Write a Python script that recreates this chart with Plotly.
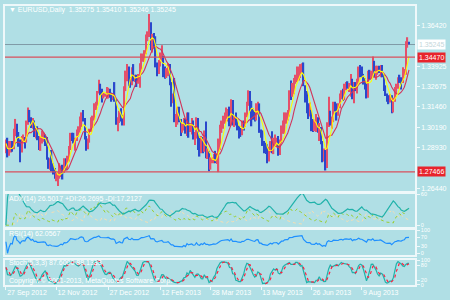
import numpy as np
import pandas as pd
import plotly.graph_objects as go

# ---------------- data (EURUSD, Daily) ----------------
first_date = "2012-09-27"
last_date = "2013-09-20"

opens = [
    1.2895, 1.2920,
    1.2860, 1.2880, 1.2900, 1.2895, 1.2970,
    1.3035, 1.2960, 1.2935, 1.2880, 1.2940,
    1.2955, 1.2945, 1.3050, 1.3120, 1.3055,
    1.3020, 1.3055, 1.2975, 1.2990, 1.2945,
    1.2940, 1.2950, 1.2960, 1.2960, 1.2950,
    1.2830, 1.2790, 1.2815, 1.2760, 1.2745,
    1.2710, 1.2715, 1.2720, 1.2745, 1.2775,
    1.2745, 1.2810, 1.2800, 1.2825, 1.2885,
    1.2975, 1.2970, 1.2945, 1.2945, 1.2975,
    1.2985, 1.3060, 1.3085, 1.3070, 1.2950,
    1.2925, 1.2935, 1.3005, 1.3060, 1.3075,
    1.3160, 1.3165, 1.3240, 1.3275, 1.3225,
    1.3215, 1.3220, 1.3220, 1.3225, 1.3240,
    1.3215, 1.3195, 1.3205, 1.3185, 1.3045,
    1.3070, 1.3115, 1.3075, 1.3065, 1.3260,
    1.3345, 1.3385, 1.3300, 1.3285, 1.3380,
    1.3315, 1.3320, 1.3315, 1.3315, 1.3385,
    1.3455, 1.3455, 1.3480, 1.3570, 1.3580,
    1.3640, 1.3510, 1.3530, 1.3525, 1.3400,
    1.3365, 1.3405, 1.3450, 1.3455, 1.3365,
    1.3360, 1.3360, 1.3390, 1.3285, 1.3185,
    1.3190, 1.3060, 1.3060, 1.3060, 1.3055,
    1.3020, 1.3020, 1.3060, 1.2980, 1.3100,
    1.3005, 1.3035, 1.3050, 1.2955, 1.2965,
    1.3075, 1.2915, 1.2870, 1.2950, 1.2880,
    1.2985, 1.2850, 1.2855, 1.2775, 1.2820,
    1.2820, 1.2845, 1.2815, 1.2850, 1.2945,
    1.2995, 1.3045, 1.3070, 1.3075, 1.3105,
    1.3110, 1.3045, 1.3180, 1.3045, 1.3065,
    1.3050, 1.3015, 1.2985, 1.2980, 1.3035,
    1.3030, 1.3095, 1.3165, 1.3170, 1.3130,
    1.3115, 1.3090, 1.3075, 1.3150, 1.3160,
    1.2990, 1.2985, 1.2910, 1.2885, 1.2875,
    1.2835, 1.2880, 1.2925, 1.2880, 1.2935,
    1.2935, 1.2940, 1.2860, 1.2930, 1.2995,
    1.2995, 1.3075, 1.3090, 1.3090, 1.3225,
    1.3220, 1.3250, 1.3315, 1.3330, 1.3340,
    1.3345, 1.3360, 1.3390, 1.3270, 1.3220,
    1.3125, 1.3120, 1.3120, 1.3025, 1.3010,
    1.3010, 1.3065, 1.2990, 1.3015, 1.2930,
    1.2830, 1.2865, 1.2790, 1.3035, 1.3115,
    1.3065, 1.3065, 1.3160, 1.3155, 1.3130,
    1.3145, 1.3215, 1.3235, 1.3200, 1.3270,
    1.3275, 1.3255, 1.3260, 1.3300, 1.3210,
    1.3280, 1.3265, 1.3305, 1.3380, 1.3345,
    1.3340, 1.3300, 1.3255, 1.3205, 1.3365,
    1.3335, 1.3335, 1.3420, 1.3335, 1.3345,
    1.3375, 1.3365, 1.3380, 1.3340, 1.3250,
    1.3220, 1.3200, 1.3190, 1.3210, 1.3115,
    1.3180, 1.3255, 1.3270, 1.3315, 1.3300,
    1.3295, 1.3335, 1.3360, 1.3515, 1.35275,
]

highs = [
    1.2945, 1.2955,
    1.2935, 1.2935, 1.2935, 1.3010, 1.3070,
    1.3040, 1.2990, 1.2945, 1.2965, 1.2975,
    1.2960, 1.3060, 1.3140, 1.3125, 1.3080,
    1.3075, 1.3060, 1.3015, 1.3025, 1.2965,
    1.2965, 1.3000, 1.2985, 1.2975, 1.2960,
    1.2835, 1.2830, 1.2880, 1.2800, 1.2770,
    1.2740, 1.2745, 1.2800, 1.2785, 1.2790,
    1.2830, 1.2830, 1.2845, 1.2905, 1.2985,
    1.2985, 1.2985, 1.2955, 1.3005, 1.3025,
    1.3085, 1.3110, 1.3125, 1.3075, 1.2965,
    1.2950, 1.3010, 1.3080, 1.3090, 1.3165,
    1.3175, 1.3240, 1.3310, 1.3285, 1.3255,
    1.3230, 1.3225, 1.3265, 1.3260, 1.3255,
    1.3230, 1.3215, 1.3295, 1.3190, 1.3080,
    1.3120, 1.3135, 1.3095, 1.3270, 1.3365,
    1.3405, 1.3390, 1.3325, 1.3385, 1.3405,
    1.3340, 1.3340, 1.3345, 1.3410, 1.3470,
    1.3470, 1.3490, 1.3585, 1.3605, 1.3711,
    1.3660, 1.3590, 1.3595, 1.3575, 1.3415,
    1.3430, 1.3475, 1.3520, 1.3455, 1.3390,
    1.3380, 1.3410, 1.3405, 1.3295, 1.3225,
    1.3320, 1.3100, 1.3145, 1.3145, 1.3070,
    1.3045, 1.3075, 1.3070, 1.3110, 1.3110,
    1.3040, 1.3075, 1.3060, 1.2990, 1.3080,
    1.3075, 1.2965, 1.2965, 1.2960, 1.3000,
    1.3055, 1.2890, 1.2875, 1.2835, 1.2835,
    1.2855, 1.2875, 1.2860, 1.2950, 1.3035,
    1.3060, 1.3090, 1.3110, 1.3140, 1.3130,
    1.3145, 1.3190, 1.3185, 1.3090, 1.3110,
    1.3070, 1.3030, 1.3015, 1.3060, 1.3060,
    1.3110, 1.3175, 1.3245, 1.3240, 1.3180,
    1.3135, 1.3115, 1.3165, 1.3175, 1.3165,
    1.3005, 1.3000, 1.2935, 1.2925, 1.2915,
    1.2900, 1.2935, 1.2995, 1.2955, 1.2975,
    1.2955, 1.2965, 1.2945, 1.3030, 1.3060,
    1.3110, 1.3110, 1.3125, 1.3245, 1.3305,
    1.3290, 1.3320, 1.3340, 1.3390, 1.3390,
    1.3405, 1.3410, 1.3415, 1.3275, 1.3240,
    1.3165, 1.3170, 1.3125, 1.3070, 1.3065,
    1.3100, 1.3080, 1.3045, 1.3020, 1.2935,
    1.2890, 1.2880, 1.3050, 1.3205, 1.3120,
    1.3085, 1.3175, 1.3175, 1.3165, 1.3165,
    1.3225, 1.3245, 1.3255, 1.3285, 1.3295,
    1.3300, 1.3290, 1.3345, 1.3315, 1.3295,
    1.3295, 1.3315, 1.3390, 1.3400, 1.3390,
    1.3345, 1.3320, 1.3285, 1.3365, 1.3370,
    1.3365, 1.3452, 1.3425, 1.3395, 1.3395,
    1.3395, 1.3400, 1.3400, 1.3345, 1.3275,
    1.3225, 1.3215, 1.3220, 1.3215, 1.3200,
    1.3265, 1.3285, 1.3325, 1.3340, 1.3325,
    1.3385, 1.3375, 1.3545, 1.3569, 1.35410,
]

lows = [
    1.2860, 1.2835,
    1.2845, 1.2865, 1.2870, 1.2885, 1.2965,
    1.2950, 1.2900, 1.2805, 1.2865, 1.2920,
    1.2890, 1.2925, 1.3035, 1.3050, 1.3015,
    1.3010, 1.2960, 1.2950, 1.2940, 1.2880,
    1.2875, 1.2920, 1.2930, 1.2905, 1.2820,
    1.2765, 1.2760, 1.2750, 1.2730, 1.2705,
    1.2690, 1.2660, 1.2705, 1.2715, 1.2700,
    1.2740, 1.2760, 1.2765, 1.2810, 1.2880,
    1.2935, 1.2920, 1.2875, 1.2935, 1.2960,
    1.2985, 1.3020, 1.3055, 1.2945, 1.2875,
    1.2885, 1.2925, 1.2990, 1.3020, 1.3060,
    1.3125, 1.3150, 1.3225, 1.3215, 1.3170,
    1.3195, 1.3205, 1.3195, 1.3195, 1.3200,
    1.3175, 1.3185, 1.3175, 1.3035, 1.2995,
    1.3045, 1.3055, 1.3030, 1.3030, 1.3240,
    1.3300, 1.3270, 1.3260, 1.3275, 1.3300,
    1.3295, 1.3265, 1.3285, 1.3260, 1.3370,
    1.3420, 1.3420, 1.3465, 1.3545, 1.3570,
    1.3490, 1.3475, 1.3500, 1.3385, 1.3330,
    1.3345, 1.3390, 1.3425, 1.3325, 1.3315,
    1.3320, 1.3330, 1.3275, 1.3145, 1.3165,
    1.3050, 1.3020, 1.3035, 1.3050, 1.2965,
    1.2985, 1.3000, 1.2980, 1.2965, 1.2955,
    1.2990, 1.2975, 1.2945, 1.2910, 1.2950,
    1.2880, 1.2840, 1.2860, 1.2860, 1.2870,
    1.2830, 1.2825, 1.2750, 1.2760, 1.2800,
    1.2800, 1.2800, 1.2795, 1.2745, 1.2880,
    1.2985, 1.3010, 1.3040, 1.3070, 1.3055,
    1.3025, 1.3030, 1.3030, 1.3020, 1.3030,
    1.3000, 1.2950, 1.2960, 1.2970, 1.3000,
    1.3020, 1.3080, 1.3150, 1.3110, 1.3025,
    1.3065, 1.3055, 1.3060, 1.3095, 1.2985,
    1.2955, 1.2905, 1.2860, 1.2855, 1.2800,
    1.2810, 1.2865, 1.2860, 1.2855, 1.2910,
    1.2905, 1.2845, 1.2850, 1.2920, 1.2980,
    1.2980, 1.3040, 1.3060, 1.3085, 1.3185,
    1.3205, 1.3220, 1.3285, 1.3295, 1.3305,
    1.3320, 1.3350, 1.3270, 1.3170, 1.3105,
    1.3070, 1.3085, 1.2995, 1.2990, 1.2995,
    1.2990, 1.2985, 1.2935, 1.2915, 1.2805,
    1.2810, 1.2755, 1.2770, 1.3020, 1.3030,
    1.3010, 1.3050, 1.3115, 1.3060, 1.3090,
    1.3135, 1.3190, 1.3180, 1.3185, 1.3245,
    1.3255, 1.3235, 1.3205, 1.3190, 1.3165,
    1.3240, 1.3225, 1.3290, 1.3325, 1.3320,
    1.3280, 1.3250, 1.3195, 1.3200, 1.3310,
    1.3315, 1.3330, 1.3325, 1.3310, 1.3340,
    1.3350, 1.3325, 1.3325, 1.3240, 1.3210,
    1.3175, 1.3160, 1.3170, 1.3105, 1.3110,
    1.3175, 1.3220, 1.3255, 1.3290, 1.3250,
    1.3290, 1.3320, 1.3340, 1.3505, 1.35246,
]

closes = [
    1.2920, 1.2860,
    1.2880, 1.2900, 1.2895, 1.2970, 1.3035,
    1.2960, 1.2935, 1.2880, 1.2940, 1.2955,
    1.2945, 1.3050, 1.3120, 1.3055, 1.3020,
    1.3055, 1.2975, 1.2990, 1.2945, 1.2940,
    1.2950, 1.2960, 1.2960, 1.2950, 1.2830,
    1.2790, 1.2815, 1.2760, 1.2745, 1.2710,
    1.2715, 1.2720, 1.2745, 1.2775, 1.2745,
    1.2810, 1.2800, 1.2825, 1.2885, 1.2975,
    1.2970, 1.2945, 1.2945, 1.2975, 1.2985,
    1.3060, 1.3085, 1.3070, 1.2950, 1.2925,
    1.2935, 1.3005, 1.3060, 1.3075, 1.3160,
    1.3165, 1.3240, 1.3275, 1.3225, 1.3215,
    1.3220, 1.3220, 1.3225, 1.3240, 1.3215,
    1.3195, 1.3205, 1.3185, 1.3045, 1.3070,
    1.3115, 1.3075, 1.3065, 1.3260, 1.3345,
    1.3385, 1.3300, 1.3285, 1.3380, 1.3315,
    1.3320, 1.3315, 1.3315, 1.3385, 1.3455,
    1.3455, 1.3480, 1.3570, 1.3580, 1.3640,
    1.3510, 1.3530, 1.3525, 1.3400, 1.3365,
    1.3405, 1.3450, 1.3455, 1.3365, 1.3360,
    1.3360, 1.3390, 1.3285, 1.3185, 1.3190,
    1.3060, 1.3060, 1.3060, 1.3055, 1.3020,
    1.3020, 1.3060, 1.2980, 1.3100, 1.3005,
    1.3035, 1.3050, 1.2955, 1.2965, 1.3075,
    1.2915, 1.2870, 1.2950, 1.2880, 1.2985,
    1.2850, 1.2855, 1.2775, 1.2820, 1.2820,
    1.2845, 1.2815, 1.2850, 1.2945, 1.2995,
    1.3045, 1.3070, 1.3075, 1.3105, 1.3110,
    1.3045, 1.3180, 1.3045, 1.3065, 1.3050,
    1.3015, 1.2985, 1.2980, 1.3035, 1.3030,
    1.3095, 1.3165, 1.3170, 1.3130, 1.3115,
    1.3090, 1.3075, 1.3150, 1.3160, 1.2990,
    1.2985, 1.2910, 1.2885, 1.2875, 1.2835,
    1.2880, 1.2925, 1.2880, 1.2935, 1.2935,
    1.2940, 1.2860, 1.2930, 1.2995, 1.2995,
    1.3075, 1.3090, 1.3090, 1.3225, 1.3220,
    1.3250, 1.3315, 1.3330, 1.3340, 1.3345,
    1.3360, 1.3390, 1.3270, 1.3220, 1.3125,
    1.3120, 1.3120, 1.3025, 1.3010, 1.3010,
    1.3065, 1.2990, 1.3015, 1.2930, 1.2830,
    1.2865, 1.2790, 1.3035, 1.3115, 1.3065,
    1.3065, 1.3160, 1.3155, 1.3130, 1.3145,
    1.3215, 1.3235, 1.3200, 1.3270, 1.3275,
    1.3255, 1.3260, 1.3300, 1.3210, 1.3280,
    1.3265, 1.3305, 1.3380, 1.3345, 1.3340,
    1.3300, 1.3255, 1.3205, 1.3365, 1.3335,
    1.3335, 1.3420, 1.3335, 1.3345, 1.3375,
    1.3365, 1.3380, 1.3340, 1.3250, 1.3220,
    1.3200, 1.3190, 1.3210, 1.3115, 1.3180,
    1.3255, 1.3270, 1.3315, 1.3300, 1.3295,
    1.3335, 1.3360, 1.3515, 1.3525, 1.35245,
]

# axis tick labels
date_tick_dates = ["2012-09-27", "2012-11-12", "2012-12-27", "2013-02-12",
                   "2013-03-28", "2013-05-13", "2013-06-26", "2013-08-09"]
date_tick_labels = ["27 Sep 2012", "12 Nov 2012", "27 Dec 2012", "12 Feb 2013",
                    "28 Mar 2013", "13 May 2013", "26 Jun 2013", "9 Aug 2013"]
price_tick_values = [1.36420, 1.33925, 1.32675, 1.31460, 1.30190, 1.28930, 1.26440]
price_tick_labels = ["1.36420", "1.33925", "1.32675", "1.31460", "1.30190", "1.28930", "1.26440"]
adx_tick_values = [0, 60]
rsi_tick_values = [0, 30, 70, 100]
stoch_tick_values = [0, 20, 80, 100]

# horizontal levels
bid_level = 1.35245
red_levels = [1.34470, 1.27466]

# texts
main_caption = "\u25bc EURUSD,Daily  1.35275 1.35410 1.35246 1.35245"
adx_caption = "ADX(14) 26.5017 +DI:26.2695 -DI:17.2127"
rsi_caption = "RSI(14) 62.0567"
stoch_caption = "Stoch(5,3,3) 87.6000 88.1333"
copyright_text = "Copyright \u00a9 2001-2013, MetaQuotes Software Corp."

# ---------------- derived series ----------------
dates = pd.bdate_range(first_date, last_date)
n = len(closes)
assert len(opens) == n and len(highs) == n and len(lows) == n and len(dates) == n, \
    (len(opens), len(highs), len(lows), n, len(dates))
idx = np.arange(n)
O = pd.Series(opens, dtype=float)
H = pd.Series(highs, dtype=float)
L = pd.Series(lows, dtype=float)
C = pd.Series(closes, dtype=float)

ma_fast = C.rolling(5, min_periods=1).mean()
ma_slow = C.rolling(10, min_periods=1).mean()

# RSI(14)
delta = C.diff().fillna(0.0)
gain = delta.clip(lower=0).ewm(alpha=1 / 14, adjust=True).mean()
loss = (-delta.clip(upper=0)).ewm(alpha=1 / 14, adjust=True).mean()
rsi = (100 - 100 / (1 + gain / loss.replace(0, np.nan))).fillna(50.0)

# ADX(14) (MetaTrader style)
prev_c = C.shift(1).fillna(C.iloc[0])
tr = pd.concat([H, prev_c], axis=1).max(axis=1) - pd.concat([L, prev_c], axis=1).min(axis=1)
up = H.diff().fillna(0.0)
dn = (-L.diff()).fillna(0.0)
pdm = up.where((up > dn) & (up > 0), 0.0)
mdm = dn.where((dn > up) & (dn > 0), 0.0)
pdi = (100 * pdm / tr.replace(0, np.nan)).fillna(0.0).ewm(span=14, adjust=True).mean()
mdi = (100 * mdm / tr.replace(0, np.nan)).fillna(0.0).ewm(span=14, adjust=True).mean()
dx = (100 * (pdi - mdi).abs() / (pdi + mdi).replace(0, np.nan)).fillna(0.0)
adx = dx.ewm(span=14, adjust=True).mean()

# Stochastic(5,3,3)
ll = L.rolling(5, min_periods=1).min()
hh = H.rolling(5, min_periods=1).max()
k = 100 * (C - ll).rolling(3, min_periods=1).sum() / (hh - ll).rolling(3, min_periods=1).sum()
d = k.rolling(3, min_periods=1).mean()

tickvals_x = [dates.get_loc(pd.Timestamp(t)) for t in date_tick_dates]

# ---------------- styling ----------------
BG = "#b0dfe5"
FRAME = "#eef8fa"
UP = "#e4506a"
DOWN = "#2a48cc"
FONT = "Liberation Sans"

W, Hh = 450, 300
ML, MR, MT, MB = 3, 35, 3, 12
PW = W - ML - MR
PH = Hh - MT - MB


def py(ypx):
    return (Hh - MB - ypx) / PH


def pxx(xpx):
    return (xpx - ML) / PW


bar_colors = [UP if c >= o else DOWN for o, c in zip(opens, closes)]

fig = go.Figure()
fig.add_trace(go.Bar(x=idx, y=(H - L), base=L, marker=dict(color=bar_colors, line=dict(width=0)),
                     width=0.85, xaxis="x", yaxis="y", hoverinfo="skip"))
fig.add_trace(go.Scatter(x=idx, y=ma_slow, mode="lines", line=dict(color="#d2345a", width=1.1),
                         xaxis="x", yaxis="y", hoverinfo="skip"))
fig.add_trace(go.Scatter(x=idx, y=ma_fast, mode="lines", line=dict(color="#ffff00", width=1.1),
                         xaxis="x", yaxis="y", hoverinfo="skip"))

fig.add_trace(go.Scatter(x=idx, y=mdi, mode="lines", line=dict(color="#f5deb3", width=1, dash="dot"),
                         xaxis="x2", yaxis="y2", hoverinfo="skip"))
fig.add_trace(go.Scatter(x=idx, y=pdi, mode="lines", line=dict(color="#9acd32", width=1, dash="dot"),
                         xaxis="x2", yaxis="y2", hoverinfo="skip"))
fig.add_trace(go.Scatter(x=idx, y=adx, mode="lines", line=dict(color="#20b2aa", width=1.2),
                         xaxis="x2", yaxis="y2", hoverinfo="skip"))

fig.add_trace(go.Scatter(x=idx, y=rsi, mode="lines", line=dict(color="#1e90ff", width=1.2),
                         xaxis="x3", yaxis="y3", hoverinfo="skip"))

fig.add_trace(go.Scatter(x=idx, y=k, mode="lines", line=dict(color="#20b2aa", width=1.2),
                         xaxis="x4", yaxis="y4", hoverinfo="skip"))
fig.add_trace(go.Scatter(x=idx, y=d, mode="lines", line=dict(color="#ff2040", width=1.2, dash="dot"),
                         xaxis="x4", yaxis="y4", hoverinfo="skip"))

xr = [-0.6, n + 2.8]
common_x = dict(range=xr, showgrid=False, zeroline=False, showline=True, mirror=True,
                linecolor=FRAME, linewidth=1.5)
common_y = dict(side="right", showgrid=False, zeroline=False, showline=True, mirror=True,
                linecolor=FRAME, linewidth=1.5, ticks="outside", ticklen=3, tickcolor=FRAME,
                tickfont=dict(family=FONT, size=7, color="white"))
sub_y = dict(common_y, tickfont=dict(family=FONT, size=5.5, color="white"))

fig.update_layout(
    width=W, height=Hh,
    margin=dict(l=ML, r=MR, t=MT, b=MB),
    paper_bgcolor=BG, plot_bgcolor=BG,
    showlegend=False,
    font=dict(family=FONT, size=7, color="white"),
    xaxis=dict(common_x, anchor="y", showticklabels=False),
    xaxis2=dict(common_x, anchor="y2", matches="x", showticklabels=False),
    xaxis3=dict(common_x, anchor="y3", matches="x", showticklabels=False),
    xaxis4=dict(common_x, anchor="y4", matches="x", tickvals=tickvals_x, ticktext=date_tick_labels,
                ticks="outside", ticklen=3, tickcolor=FRAME, ticklabelposition="outside right",
                tickfont=dict(family=FONT, size=7, color="white")),
    yaxis=dict(common_y, domain=[py(192), py(3)], range=[1.26296, 1.37598],
               tickvals=price_tick_values, ticktext=price_tick_labels),
    yaxis2=dict(sub_y, domain=[py(229), py(195)], range=[-4, 61],
                tickvals=adx_tick_values, ticktext=[str(v) for v in adx_tick_values]),
    yaxis3=dict(sub_y, domain=[py(257), py(232)], range=[-6, 100],
                tickvals=rsi_tick_values, ticktext=[str(v) for v in rsi_tick_values]),
    yaxis4=dict(sub_y, domain=[py(288), py(262.5)], range=[0, 100],
                tickvals=stoch_tick_values, ticktext=[str(v) for v in stoch_tick_values]),
)

# horizontal levels
fig.add_shape(type="line", xref="x domain", yref="y", x0=0, x1=1, y0=bid_level, y1=bid_level,
              line=dict(color="#7f9aa6", width=1), layer="below")
for lv in red_levels:
    fig.add_shape(type="line", xref="x domain", yref="y", x0=0, x1=1, y0=lv, y1=lv,
                  line=dict(color="#d9505c", width=1.3))

# price labels at the right
fig.add_annotation(x=1, xref="paper", y=bid_level, yref="y", text=f"{bid_level:.5f}", showarrow=False,
                   xanchor="left", xshift=2, bgcolor="#ffffff", borderpad=1,
                   font=dict(family=FONT, size=7, color="#c4d6da"))
for lv in red_levels:
    fig.add_annotation(x=1, xref="paper", y=lv, yref="y", text=f"{lv:.5f}", showarrow=False,
                       xanchor="left", xshift=2, bgcolor="#e8242c", borderpad=1,
                       font=dict(family=FONT, size=7, color="white"))

# captions
for txt, ypix in [(main_caption, 7), (adx_caption, 200), (rsi_caption, 236),
                  (stoch_caption, 266), (copyright_text, 284)]:
    fig.add_annotation(x=pxx(5), xref="paper", y=py(ypix), yref="paper", text=txt, showarrow=False,
                       xanchor="left", yanchor="middle", font=dict(family=FONT, size=7, color="white"))

fig.write_html("out.html", config={"displayModeBar": False})
